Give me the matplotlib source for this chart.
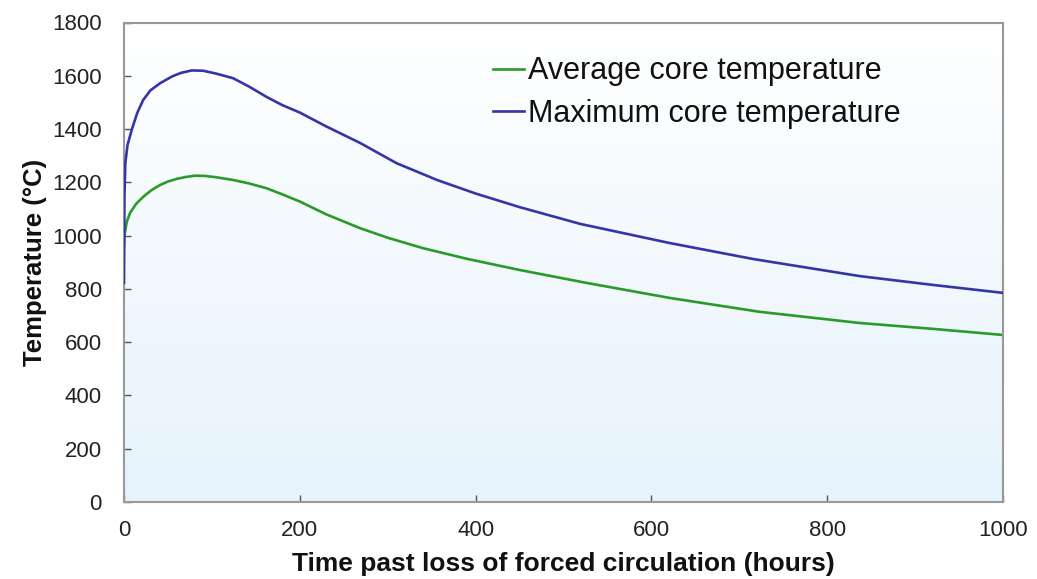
import numpy as np
import matplotlib
matplotlib.use("Agg")
import matplotlib.pyplot as plt
from matplotlib.colors import LinearSegmentedColormap

plt.rcParams['font.family'] = ['Liberation Sans', 'DejaVu Sans']

# Data
hours_avg = [0, 0.5, 3, 6.8, 14, 22, 31, 41, 50, 60, 70, 81, 92, 105, 124, 142, 162, 180, 200, 230, 268.5, 300, 340, 390, 450, 527, 621, 723, 837, 920, 1000]
avg_temp = [960, 1000, 1050, 1085, 1120, 1146, 1170, 1190, 1203, 1213, 1220, 1225, 1224, 1219, 1209, 1196, 1178, 1155, 1128, 1080, 1028, 992, 953, 913, 871, 822, 766, 714, 672, 650, 627]

hours_max = [0, 0.5, 1.5, 4, 8.7, 15, 21.8, 30, 41, 55, 65, 77, 90, 105, 124, 142, 162, 180, 200, 230, 268.5, 310, 356, 400, 450, 519, 621, 716, 837, 920, 1000]
max_temp = [822, 1150, 1272, 1340, 1396, 1460, 1509, 1545, 1572, 1598, 1611, 1620, 1619, 1608, 1591, 1560, 1521, 1490, 1462, 1410, 1348, 1272, 1209, 1158, 1107, 1044, 972, 912, 848, 815, 785]

x_ticks = [0, 200, 400, 600, 800, 1000]
y_ticks = [0, 200, 400, 600, 800, 1000, 1200, 1400, 1600, 1800]

fig = plt.figure(figsize=(10.37, 5.79), dpi=100)
ax = fig.add_axes([124/1037, 1-502/579, (1003-124)/1037, (502-22.5)/579])

# gradient background
cmap = LinearSegmentedColormap.from_list('bg', ['#ffffff', '#e6f3fc'])
grad = np.linspace(0, 1, 256).reshape(-1, 1)
ax.imshow(grad, cmap=cmap, aspect='auto', extent=[0, 1, 0, 1],
          transform=ax.transAxes, zorder=0)

ax.plot(hours_avg, avg_temp, color='#2a9a2a', lw=1.9, label='Average core temperature', zorder=2)
ax.plot(hours_max, max_temp, color='#3535a5', lw=1.9, label='Maximum core temperature', zorder=3)

ax.set_xlim(0, 1000)
ax.set_ylim(0, 1800)
ax.set_xticks(x_ticks)
ax.set_yticks(y_ticks)
ax.tick_params(direction='in', length=5, width=1, colors='#555555',
               labelcolor='#222222', labelsize=16)
ax.tick_params(axis='y', pad=16)
ax.tick_params(axis='x', pad=13)
for s in ax.spines.values():
    s.set_color('#999999')
    s.set_linewidth(1.5)

ax.set_xlabel('Time past loss of forced circulation (hours)', fontsize=19,
              fontweight='bold', color='#111111')
ax.set_ylabel('Temperature (°C)', fontsize=18.5, fontweight='bold',
              color='#111111')
ax.xaxis.set_label_coords(0.5, (502-552)/479.5)
ax.yaxis.set_label_coords((47-124)/879, 0.5)

leg = ax.legend(loc='upper left', bbox_to_anchor=(478/1037, 1-41/579),
                bbox_transform=fig.transFigure, frameon=False, fontsize=22,
                handlelength=1.0, handletextpad=0.15, borderpad=0,
                labelspacing=0.42)
for t in leg.get_texts():
    t.set_color('#111111')

fig.savefig('out.png', dpi=100, facecolor='white')
